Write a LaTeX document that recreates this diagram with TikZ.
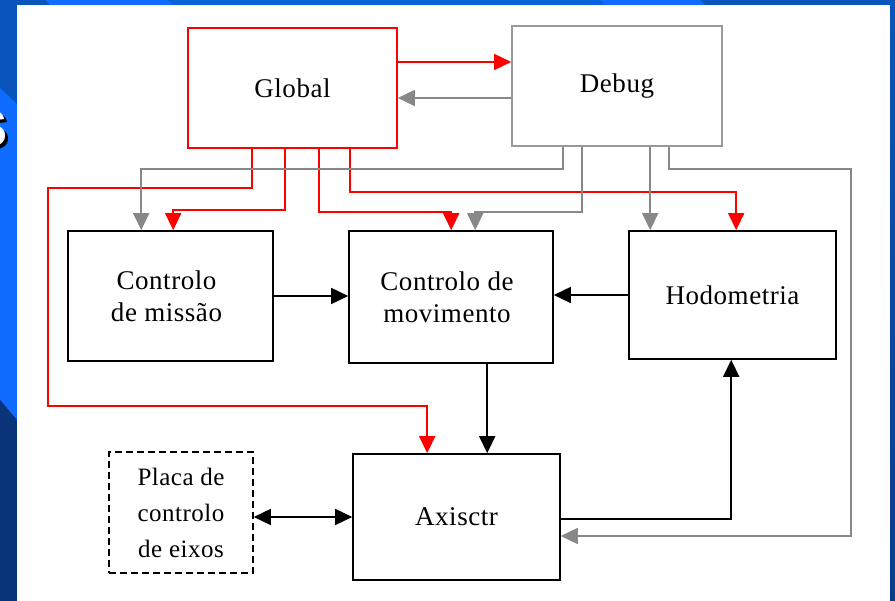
\documentclass[tikz,border=0pt]{standalone}
\usepackage{fontspec}
\setmainfont{Liberation Serif}[LetterSpace=2]
\newfontfamily\titlefont{Liberation Sans}
\usetikzlibrary{arrows.meta}
\definecolor{bgblue}{HTML}{0A55BC}
\definecolor{brightblue}{HTML}{0F6CFF}
\definecolor{midblue}{HTML}{0A62DC}
\definecolor{navy}{HTML}{0A347A}
\definecolor{rightdark}{HTML}{0A3A8C}
\definecolor{arrowgray}{HTML}{888888}
\definecolor{boxgray}{HTML}{999999}
\newcommand\boxfont{\fontsize{27}{32}\selectfont}
\newcommand\placafont{\fontsize{25}{36}\selectfont}

\begin{document}
\begin{tikzpicture}[x=1pt,y=-1pt,
  box/.style={draw, line width=1.6pt, inner sep=0pt, align=center, font=\boxfont},
  tip/.tip={Triangle[length=17pt,width=16pt]},
  conn/.style={line width=1.6pt, -tip},
  redc/.style={conn, draw=red},
  grayc/.style={conn, draw=arrowgray},
  blackc/.style={conn, draw=black}]

\useasboundingbox (0,0) rectangle (895,601);
\clip (0,0) rectangle (895,601);

% slide background
\fill[bgblue] (0,0) rectangle (895,601);
\fill[brightblue] (0,88) -- (17,104) -- (17,420) -- (0,400) -- cycle;
\fill[navy] (0,400) -- (17,420) -- (17,601) -- (0,601) -- cycle;
\fill[brightblue] (45,0) -- (168,0) -- (173,5) -- (50,5) -- cycle;
\fill[midblue] (168,0) -- (600,0) -- (605,5) -- (173,5) -- cycle;
\fill[brightblue] (600,0) -- (700,0) -- (705,5) -- (605,5) -- cycle;
\shade[top color=bgblue, bottom color=rightdark] (890,0) rectangle (895,601);

% cut-off title letter
\node[anchor=base east, inner sep=0pt, text=black,
      font=\titlefont\bfseries\fontsize{68}{68}\selectfont] (titleshadow) at (12,150) {s};
\node[anchor=base east, inner sep=0pt, text=white,
      font=\titlefont\bfseries\fontsize{68}{68}\selectfont] (title) at (9,147) {s};

% white panel
\fill[white] (17,5) rectangle (890,601);

% blocks
\node[box, draw=red, minimum width=209pt, minimum height=120pt] (glob) at (292.5,88) {Global};
\node[box, draw=boxgray, minimum width=210pt, minimum height=120pt] (deb) at (617,86) {Debug};
\node[box, minimum width=205pt, minimum height=130pt] (mis) at (170.5,296) {Controlo\hspace*{8pt}\\de miss\~ao\hspace*{8pt}};
\node[box, minimum width=204pt, minimum height=132pt] (mov) at (451,297) {Controlo de\hspace*{8pt}\\movimento\hspace*{8pt}};
\node[box, minimum width=207pt, minimum height=128pt] (hod) at (732.5,295) {Hodometria};
\node[box, minimum width=207pt, minimum height=126pt] (axis) at (456.5,517) {Axisctr};
\node[box, dashed, dash pattern=on 7pt off 4pt, font=\placafont,
      minimum width=144pt, minimum height=121pt] (placa) at (181,512.5) {Placa de\\controlo\\de eixos};

% Global <-> Debug
\draw[redc] ([yshift=26pt]glob.east) -- ([yshift=24pt]deb.west);
\draw[grayc] ([yshift=-12pt]deb.west) -- ([yshift=-10pt]glob.east);

% Global to the modules
\draw[redc] ([xshift=65pt]glob.south west) -- ++(0,39) -| (48,406) -| ([xshift=75pt]axis.north west);
\draw[redc] ([xshift=98pt]glob.south west) -- ++(0,61) -| ([xshift=106pt]mis.north west);
\draw[redc] ([xshift=132pt]glob.south west) -- ++(0,63) -| ([xshift=103pt]mov.north west);
\draw[redc] ([xshift=163pt]glob.south west) -- ++(0,43) -| ([xshift=108pt]hod.north west);

% Debug to the modules
\draw[grayc] ([xshift=52pt]deb.south west) -- ++(0,22) -| ([xshift=74pt]mis.north west);
\draw[grayc] ([xshift=71pt]deb.south west) -- ++(0,65) -| ([xshift=127pt]mov.north west);
\draw[grayc] ([xshift=139pt]deb.south west) -- ([xshift=22pt]hod.north west);
\draw[grayc] ([xshift=158pt]deb.south west) -- ++(0,22) -| (851,536) -- ([yshift=-19pt]axis.east);

% data flow between modules
\draw[blackc] (mis.east) -- (mis.east -| mov.west);
\draw[blackc] (hod.west) -- (hod.west -| mov.east);
\draw[blackc] ([xshift=139pt]mov.south west) -- ([xshift=135pt]axis.north west);
\draw[blackc] ([yshift=-2pt]axis.east) -| ([xshift=103pt]hod.south west);
\draw[blackc, tip-tip] (axis.west -| placa.east) -- (axis.west);
\end{tikzpicture}
\end{document}
